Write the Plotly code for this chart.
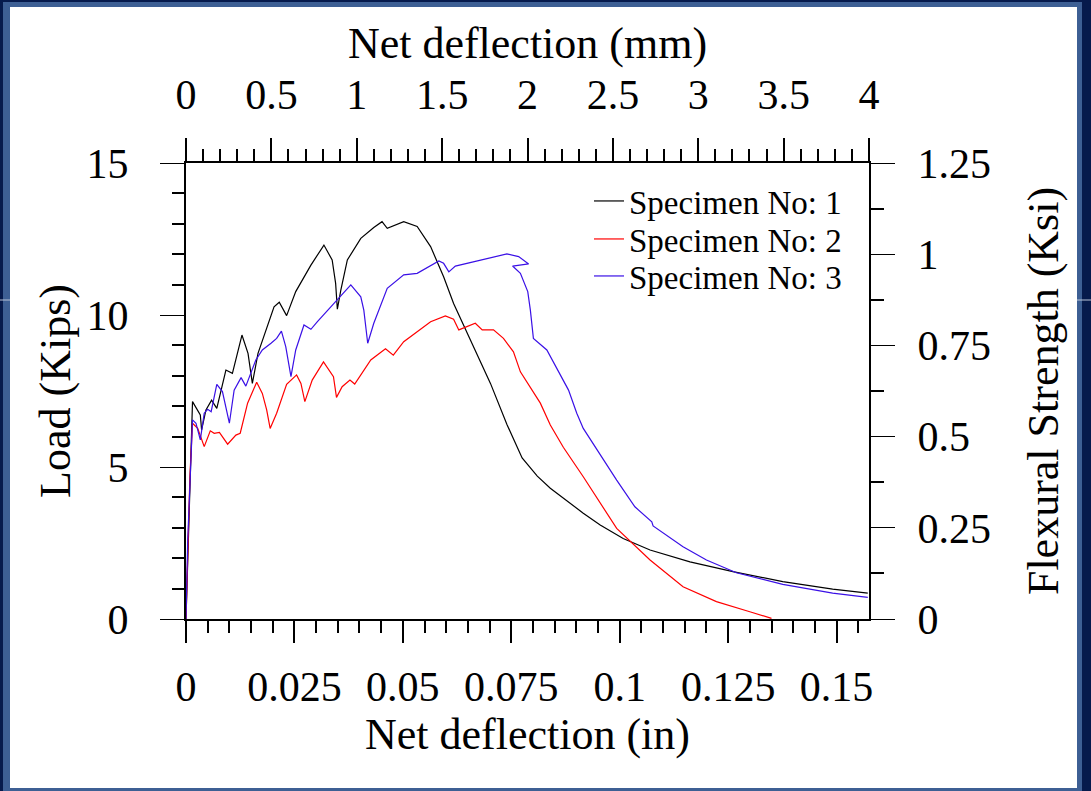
import plotly.graph_objects as go

# ---------------- data ----------------
spec1_x = [0, 0.0015, 0.0033, 0.0036, 0.0046, 0.0059, 0.0071, 0.0092, 0.0107, 0.0129,
           0.0143, 0.0153, 0.0166, 0.0188, 0.0203, 0.0215, 0.0232, 0.0253, 0.0288, 0.0318,
           0.0337, 0.0345, 0.0349, 0.0357, 0.0372, 0.0403, 0.0433, 0.0452, 0.0464, 0.0502,
           0.0533, 0.0564, 0.0594, 0.0617, 0.0656, 0.0702, 0.0740, 0.0775, 0.0810, 0.0840,
           0.0916, 0.0955, 0.1008, 0.1070, 0.1162, 0.1261, 0.1376, 0.1491, 0.1572]
spec1_load = [0, 7.15, 6.71, 6.22, 6.88, 7.20, 6.93, 8.19, 8.08, 9.34,
              8.74, 7.75, 8.74, 9.62, 10.27, 10.42, 9.98, 10.77, 11.64, 12.30,
              11.81, 11.04, 10.19, 10.82, 11.81, 12.52, 12.88, 13.07, 12.85, 13.07,
              12.91, 12.25, 11.26, 10.38, 9.18, 7.75, 6.40, 5.30, 4.70, 4.30,
              3.48, 3.09, 2.65, 2.27, 1.88, 1.56, 1.23, 0.98, 0.85]

spec2_x = [0, 0.0009, 0.0015, 0.0027, 0.0042, 0.0056, 0.0065, 0.0077, 0.0096, 0.0115,
           0.0125, 0.0142, 0.0163, 0.0176, 0.0186, 0.0194, 0.0209, 0.0232, 0.0255, 0.0265,
           0.0274, 0.0291, 0.0317, 0.0340, 0.0347, 0.0360, 0.0378, 0.0389, 0.0426, 0.0460,
           0.0478, 0.0502, 0.0564, 0.0598, 0.0617, 0.0629, 0.0667, 0.0683, 0.0709, 0.0732,
           0.0755, 0.0771, 0.0817, 0.0840, 0.0870, 0.0916, 0.0993, 0.1070, 0.1146, 0.1223,
           0.1300, 0.1350]
spec2_load = [0, 4.68, 6.44, 6.27, 5.67, 6.19, 6.11, 6.14, 5.75, 6.05,
              6.11, 7.10, 7.79, 7.42, 6.88, 6.27, 6.77, 7.72, 8.03, 7.75,
              7.15, 7.86, 8.46, 7.97, 7.29, 7.64, 7.86, 7.73, 8.52, 8.89,
              8.68, 9.12, 9.78, 9.97, 9.86, 9.51, 9.73, 9.51, 9.51, 9.23,
              8.79, 8.13, 7.10, 6.38, 5.65, 4.68, 2.98, 1.94, 1.06, 0.57,
              0.24, 0.02]

spec3_x = [0, 0.0004, 0.0015, 0.0023, 0.0033, 0.0042, 0.0050, 0.0058, 0.0071, 0.0084,
           0.0100, 0.0111, 0.0127, 0.0138, 0.0161, 0.0176, 0.0196, 0.0209, 0.0220, 0.0230,
           0.0242, 0.0253, 0.0272, 0.0288, 0.0303, 0.0334, 0.0380, 0.0403, 0.0410, 0.0419,
           0.0433, 0.0464, 0.0502, 0.0533, 0.0583, 0.0594, 0.0606, 0.0621, 0.0671, 0.0702,
           0.0740, 0.0767, 0.0790, 0.0753, 0.0771, 0.0788, 0.0794, 0.0801, 0.0832, 0.0882,
           0.0901, 0.0916, 0.0955, 0.0993, 0.1035, 0.1074, 0.1077, 0.1146, 0.1200, 0.1269,
           0.1376, 0.1491, 0.1572]
spec3_load = [0, 2.60, 6.55, 6.44, 5.89, 6.77, 6.90, 6.82, 7.72, 7.48,
              6.44, 7.53, 7.94, 7.66, 8.52, 8.85, 9.07, 9.23, 9.47, 8.96,
              7.97, 8.85, 9.67, 9.53, 9.78, 10.27, 10.99, 10.60, 10.16, 9.07,
              9.73, 10.88, 11.32, 11.37, 11.78, 11.70, 11.42, 11.61, 11.78, 11.90,
              12.01, 11.92, 11.68, 11.61, 11.37, 10.77, 10.16, 9.23, 8.85, 7.53,
              6.77, 6.27, 5.39, 4.57, 3.69, 3.20, 3.06, 2.38, 1.94, 1.52,
              1.14, 0.85, 0.71]

series_names = ["Specimen No: 1", "Specimen No: 2", "Specimen No: 3"]
series_colors = ["#000000", "#ff0000", "#3a10e6"]

in_range = [0, 4 / 25.4]   # 0 .. 4 mm expressed in inches
mm_range = [0, 4]
load_range = [0, 15]
ksi_range = [0, 1.25]

# ---------------- layout geometry ----------------
W, H = 1091, 791
L, R, T, B = 186, 869, 163, 619
FONT = "Liberation Serif, Times New Roman, serif"


def px(x):
    return (x - L) / (R - L)


def py(y):
    return (B - y) / (B - T)


legend_ids = ["legend", "legend2", "legend3"]
legend_rows = [201, 239, 276]
legend_left = 589

fig = go.Figure()
for xs, ys, name, col, lg in zip([spec1_x, spec2_x, spec3_x],
                                 [spec1_load, spec2_load, spec3_load],
                                 series_names, series_colors, legend_ids):
    fig.add_trace(go.Scatter(x=xs, y=ys, mode="lines", name=name, legend=lg,
                             line=dict(color=col, width=1.2)))
# secondary axes (mm / ksi)
fig.add_trace(go.Scatter(x=[], y=[], xaxis="x2", yaxis="y2", showlegend=False,
                         hoverinfo="skip"))

tickfont = dict(family=FONT, size=42, color="black")
titlefont = dict(family=FONT, size=44, color="black")

common = dict(showgrid=False, zeroline=False, showline=True, linecolor="black",
              linewidth=2, ticks="outside", tickcolor="black", tickfont=tickfont,
              fixedrange=True)

legend_style = dict(xanchor="left", yanchor="middle",
                    font=dict(family=FONT, size=33, color="black"),
                    bgcolor="rgba(0,0,0,0)", borderwidth=0)

fig.update_layout(
    width=W, height=H,
    margin=dict(l=L, r=W - R, t=T, b=H - B, pad=0),
    paper_bgcolor="#061a4c",
    plot_bgcolor="white",
    font=dict(family=FONT, color="black"),
    showlegend=True,
    legend=dict(x=px(legend_left), y=py(legend_rows[0]), **legend_style),
    legend2=dict(x=px(legend_left), y=py(legend_rows[1]), **legend_style),
    legend3=dict(x=px(legend_left), y=py(legend_rows[2]), **legend_style),
    xaxis=dict(range=in_range, tick0=0, dtick=0.025, ticklen=22, tickwidth=2,
               ticklabelstandoff=8,
               minor=dict(dtick=0.005, tick0=0, ticks="outside", ticklen=12,
                          tickwidth=2, tickcolor="black"),
               title=dict(text="Net deflection (in)", font=titlefont, standoff=4),
               **common),
    xaxis2=dict(range=mm_range, overlaying="x", side="top", tick0=0, dtick=0.5,
                ticklen=23, tickwidth=2, ticklabelstandoff=12,
                minor=dict(dtick=0.1, tick0=0, ticks="outside", ticklen=12,
                           tickwidth=2, tickcolor="black"),
                title=dict(text="Net deflection (mm)", font=titlefont, standoff=0),
                **common),
    yaxis=dict(range=load_range, tick0=0, dtick=5, ticklen=24, tickwidth=1,
               ticklabelstandoff=23,
               minor=dict(dtick=1, tick0=0, ticks="outside", ticklen=12,
                          tickwidth=2, tickcolor="black"),
               title=dict(text="Load (Kips)", font=titlefont, standoff=2),
               **common),
    yaxis2=dict(range=ksi_range, overlaying="y", side="right", tick0=0, dtick=0.25,
                ticklen=24, tickwidth=1, ticklabelstandoff=14,
                minor=dict(dtick=0.125, tick0=0, ticks="outside", ticklen=13,
                           tickwidth=2, tickcolor="black"),
                title=dict(text="Flexural Strength (Ksi)", font=titlefont, standoff=37),
                **common),
    shapes=[
        dict(type="rect", xref="paper", yref="paper", layer="below",
             x0=px(3), x1=px(1082), y0=py(800), y1=py(2),
             fillcolor="#3d5f94", line=dict(width=0)),
        dict(type="rect", xref="paper", yref="paper", layer="below",
             x0=px(10), x1=px(1077), y0=py(788), y1=py(7),
             fillcolor="white", line=dict(width=0)),
        dict(type="line", xref="paper", yref="paper", layer="below",
             x0=px(0), x1=px(10), y0=py(300), y1=py(300),
             line=dict(color="#b9c4d8", width=1)),
        dict(type="line", xref="paper", yref="paper", layer="below",
             x0=px(1077), x1=px(1091), y0=py(300), y1=py(300),
             line=dict(color="#b9c4d8", width=1)),
    ],
)

fig.write_html(
    "out.html",
    config={"displayModeBar": False, "staticPlot": True},
    post_script="document.body.style.margin='0px';"
                "document.body.style.overflow='hidden';"
                "document.body.style.background='#061a4c';",
)
